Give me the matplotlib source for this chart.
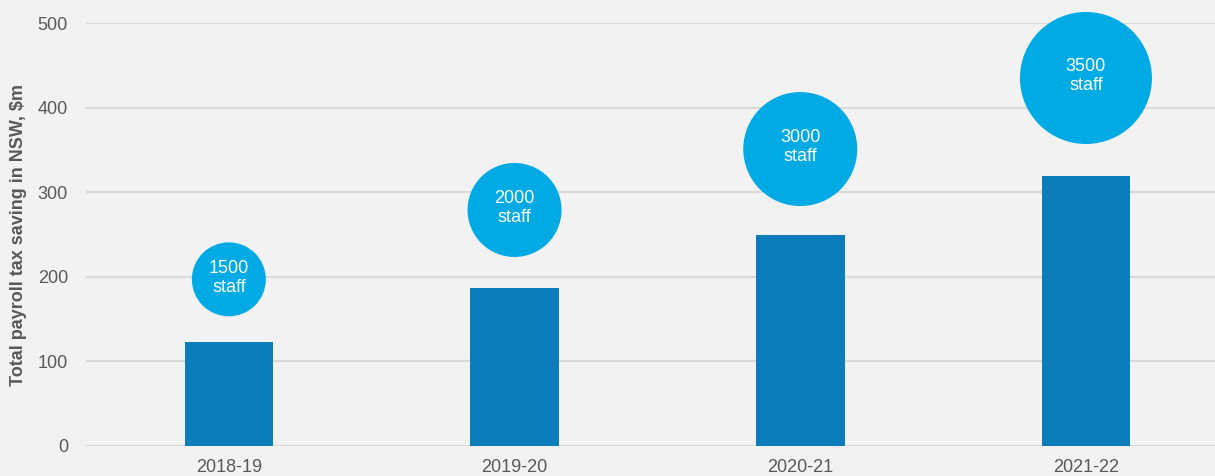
import matplotlib
matplotlib.use("Agg")
import matplotlib.pyplot as plt

categories = ["2018-19", "2019-20", "2020-21", "2021-22"]
savings = [123, 187, 250, 319]
staff = [1500, 2000, 3000, 3500]
bubble_y = [197, 279, 351, 435]

# styling
bubble_radius_px = [37, 47, 57, 66]
bar_color = "#0b7dba"
bubble_color = "#00abe5"
bg = "#f2f2f2"
grid_color = "#dcdad8"
text_color = "#595959"

plt.rcParams['font.family'] = ['Liberation Sans', 'DejaVu Sans']

dpi = 100
fig = plt.figure(figsize=(12.15, 4.76), dpi=dpi, facecolor=bg)
W, H = 1215, 476
left, right = 86, 1215
top, bottom = 23, 446
ax = fig.add_axes([left / W, 1 - bottom / H, (right - left) / W, (bottom - top) / H])
ax.set_facecolor(bg)

x = list(range(len(categories)))
ax.bar(x, savings, width=0.31, color=bar_color, zorder=2)

sizes = [(2 * r * 72 / dpi) ** 2 for r in bubble_radius_px]
ax.scatter(x, bubble_y, s=sizes, color=bubble_color, zorder=3, linewidths=0, clip_on=False)
for xi, yi, n in zip(x, bubble_y, staff):
    ax.text(xi, yi + 2, f"{n}\nstaff", ha="center", va="center", color="white",
            fontsize=13, linespacing=1.15, zorder=4)

ax.set_ylim(0, 500)
ax.set_xlim(-0.5, -0.5 + (right - left) / 285.7)
ax.set_yticks([0, 100, 200, 300, 400, 500])
ax.set_xticks(x)
ax.set_xticklabels(categories)
ax.yaxis.grid(True, color=grid_color, linewidth=1.5, zorder=0)
ax.set_axisbelow(True)
for s in ax.spines.values():
    s.set_visible(False)
ax.tick_params(axis="both", length=0, labelsize=13, colors=text_color)
ax.tick_params(axis="y", pad=13)
ax.tick_params(axis="x", pad=9)
ax.set_ylabel("Total payroll tax saving in NSW, $m", fontsize=13, fontweight="bold",
              color=text_color, labelpad=8)

fig.savefig("out.png", dpi=dpi, facecolor=bg)
